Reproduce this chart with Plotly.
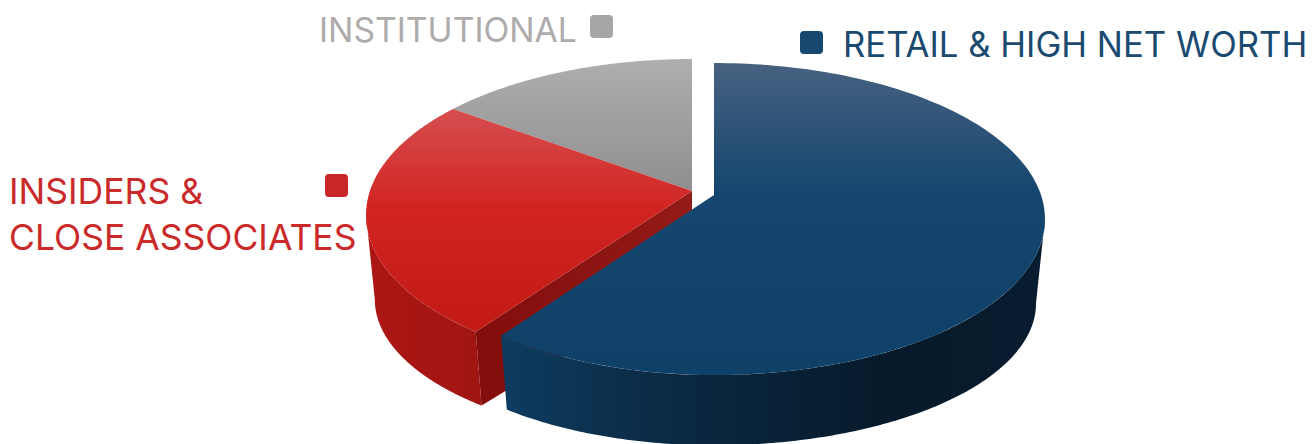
import numpy as np
import plotly.graph_objects as go

categories = ["RETAIL & HIGH NET WORTH", "INSIDERS &<br>CLOSE ASSOCIATES", "INSTITUTIONAL"]
shares = [60, 25, 15]
text_colors = ["#1b4a70", "#cb2a2b", "#adabab"]
chip_colors = ["#17486f", "#c9262a", "#a6a6a6"]

# projection of the pie disc onto the page
R, RK, P = 327.0, 152.3, 0.154
DEPTH, BX, BY = 86.5, 0.973, 0.91
CENTERS = [(714.0, 195.0), (692.0, 191.0), (692.0, 191.0)]
LEFT_SCALE = [0.97, 0.985, 0.985]
FONT = "Inter"
SIZES = [34.7, 35.5, 33.7]


def proj(theta, ls=1.0):
    d = 1 + P * np.cos(theta)
    s = np.sin(theta)
    return np.where(s < 0, ls, 1.0) * R * s / d, -RK * np.cos(theta) / d


def top_pts(c, a0, a1, ls, n=160):
    t = np.linspace(a0, a1, n)
    x, y = proj(t, ls)
    return c[0] + x, c[1] + y


def bot_pts(c, a0, a1, ls, n=160):
    t = np.linspace(a0, a1, n)
    x, y = proj(t, ls)
    return c[0] + BX * x, c[1] + BY * y + DEPTH


cum = np.cumsum([0] + shares) / sum(shares) * 2 * np.pi
edge = [(cum[i], cum[i + 1]) for i in range(3)]
widest_r, widest_l = np.arccos(-P), 2 * np.pi - np.arccos(-P)

fig = go.Figure()


def poly(x, y, grad):
    fig.add_trace(go.Scatter(x=list(x), y=list(y), mode="none", fill="toself",
                             fillgradient=grad, hoverinfo="skip", showlegend=False))


def vgrad(a, b, stops):
    return dict(type="vertical", start=a, stop=b, colorscale=stops)


def hgrad(a, b, stops):
    return dict(type="horizontal", start=a, stop=b, colorscale=stops)


# institutional
c, ls = CENTERS[2], LEFT_SCALE[2]
x, y = top_pts(c, *edge[2], ls)
poly(np.r_[c[0], x, c[0]], np.r_[c[1], y, c[1]],
     vgrad(60, 190, [[0, "#aeaeae"], [1, "#8f8f8f"]]))

# insiders: outer wall, cut wall, top face
c, ls = CENTERS[1], LEFT_SCALE[1]
tx, ty = top_pts(c, edge[1][0], widest_l, ls)
bx, by = bot_pts(c, edge[1][0], widest_l, ls)
poly(np.r_[tx, bx[::-1]], np.r_[ty, by[::-1]],
     hgrad(366, 480, [[0, "#ad1715"], [1, "#a01512"]]))
vx, vy = proj(edge[1][0], ls)
poly([c[0], c[0] + vx, c[0] + BX * vx, c[0]],
     [c[1], c[1] + vy, c[1] + BY * vy + DEPTH, c[1] + DEPTH],
     hgrad(476, 692, [[0, "#820d0b"], [1, "#931b18"]]))
x, y = top_pts(c, *edge[1], ls)
poly(np.r_[c[0], x, c[0]], np.r_[c[1], y, c[1]],
     vgrad(108, 330, [[0, "#d64f50"], [0.45, "#d12421"], [1, "#c21a15"]]))

# retail: outer wall, sliver of the cut wall, top face
c, ls = CENTERS[0], LEFT_SCALE[0]
tx, ty = top_pts(c, widest_r, edge[0][1], ls)
bx, by = bot_pts(c, widest_r, edge[0][1], ls)
poly(np.r_[tx, bx[::-1]], np.r_[ty, by[::-1]],
     hgrad(500, 1045, [[0, "#0e3c60"], [0.3, "#0b2a44"], [0.7, "#061a2b"], [1, "#071c2e"]]))
x, y = top_pts(c, *edge[0], ls)
poly(np.r_[c[0], x, c[0]], np.r_[c[1], y, c[1]],
     vgrad(63, 375, [[0, "#476180"], [0.42, "#14466f"], [1, "#0f4068"]]))
sx, sy = proj(0.0)
fig.add_trace(go.Scatter(x=[c[0] + sx, c[0] + 0.8, c[0] + sx], y=[c[1] + 0.4 * sy, c[1], c[1] + 0.4 * sy],
                         mode="none", fill="toself", fillcolor="#0d2a40",
                         hoverinfo="skip", showlegend=False))

# labels
fig.add_annotation(x=841, y=44, text=categories[0], xanchor="left", yanchor="middle", showarrow=False,
                   font=dict(family=FONT, size=SIZES[0], color=text_colors[0]))
fig.add_annotation(x=7, y=214, text=categories[1], xanchor="left", yanchor="middle", align="left", showarrow=False,
                   font=dict(family=FONT, size=SIZES[1], color=text_colors[1]))
fig.add_annotation(x=579, y=29, text=categories[2], xanchor="right", yanchor="middle", showarrow=False,
                   font=dict(family=FONT, size=SIZES[2], color=text_colors[2]))


def chip(x0, y0, x1, y1, color, rad=4):
    p = (f"M{x0+rad},{y0} L{x1-rad},{y0} Q{x1},{y0} {x1},{y0+rad} L{x1},{y1-rad} Q{x1},{y1} {x1-rad},{y1} "
         f"L{x0+rad},{y1} Q{x0},{y1} {x0},{y1-rad} L{x0},{y0+rad} Q{x0},{y0} {x0+rad},{y0} Z")
    fig.add_shape(type="path", path=p, fillcolor=color, line_width=0, xref="x", yref="y")


chip(800, 31, 823, 54, chip_colors[0])
chip(325, 174, 348, 197, chip_colors[1])
chip(590, 15, 613, 38, chip_colors[2])

fig.update_layout(width=1314, height=444, margin=dict(l=0, r=0, t=0, b=0),
                  paper_bgcolor="white", plot_bgcolor="white", showlegend=False,
                  xaxis=dict(range=[0, 1314], visible=False, fixedrange=True),
                  yaxis=dict(range=[444, 0], visible=False, fixedrange=True))
fig.write_html("out.html", config=dict(displayModeBar=False),
               post_script="document.body.style.margin='0';document.documentElement.style.overflow='hidden';")
